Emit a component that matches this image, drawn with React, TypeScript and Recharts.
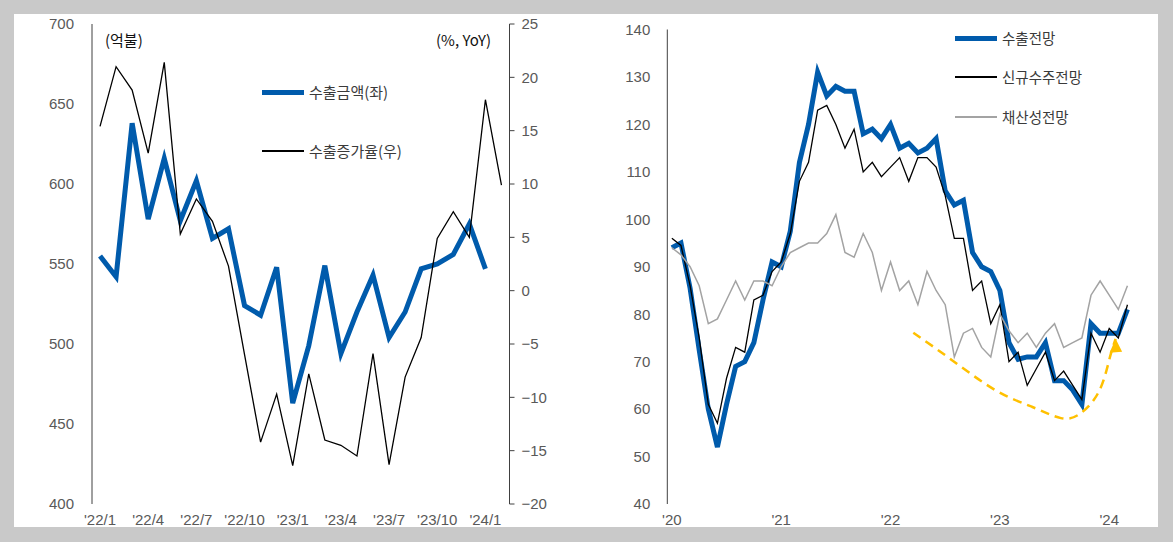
import React from "react";
import { LineChart, Line, XAxis, YAxis } from "recharts";

// ---- left panel: 수출금액 / 수출증가율 ----
const leftMonths = [
  "'22/1", "'22/2", "'22/3", "'22/4", "'22/5", "'22/6", "'22/7", "'22/8", "'22/9",
  "'22/10", "'22/11", "'22/12", "'23/1", "'23/2", "'23/3", "'23/4", "'23/5", "'23/6",
  "'23/7", "'23/8", "'23/9", "'23/10", "'23/11", "'23/12", "'24/1", "'24/2",
];
const exportAmount = [
  555, 542, 638, 578, 616, 577, 602, 566, 572, 524, 518, 548, 463, 499, 549, 494, 520,
  543, 504, 520, 547, 550, 556, 575, 547,
];
const exportGrowth = [
  15.4, 21.0, 18.8, 12.9, 21.4, 5.3, 8.6, 6.5, 2.3, -6.0, -14.2, -9.7, -16.4, -7.8,
  -14.0, -14.5, -15.5, -5.9, -16.3, -8.1, -4.4, 4.9, 7.4, 5.0, 17.9, 9.9,
];
const leftTicks = [400, 450, 500, 550, 600, 650, 700];
const rightTicks = [-20, -15, -10, -5, 0, 5, 10, 15, 20, 25];
const leftLabelEvery = 3;

// ---- right panel: 수출전망 / 신규수주전망 / 채산성전망 (2020.1 ~ 2024.3) ----
const years = ["'20", "'21", "'22", "'23", "'24"];
const exportOutlook = [
  94, 95, 85.5, 72.5, 60, 52, 61, 69, 70, 74, 83, 91,
  90, 97.5, 112, 120, 131, 126, 128, 127, 127, 118, 119, 117,
  120, 115, 116, 114, 115, 117, 106, 103, 104, 93, 90, 89,
  85, 74, 70.5, 71, 71, 74, 66, 66, 64, 61, 78, 76,
  76, 76, 81,
];
const newOrderOutlook = [
  96, 94.5, 86, 75, 61, 57, 66.5, 73, 72, 83, 84, 89,
  91, 97, 108, 112, 123, 124, 120, 115, 119, 110, 112, 109,
  111, 113, 108, 113, 113, 111, 105, 96, 96, 85, 87, 78,
  82, 70, 72, 65, 68.5, 72, 66, 68, 65, 62, 76, 72,
  77, 75, 82,
];
const profitOutlook = [
  94, 92.5, 90, 86, 78, 79, 83, 87, 83, 87, 87, 86,
  90, 93, 94, 95, 95, 97, 101, 93, 92, 97, 93, 85,
  91, 85, 87, 82, 89, 85, 82, 71, 76, 77, 73, 71,
  80, 76.5, 74, 76, 73, 76, 78, 73, 74, 75, 84, 87,
  84, 81, 86,
];
const outlookTicks = [40, 50, 60, 70, 80, 90, 100, 110, 120, 130, 140];
// yellow "rebound" annotation, in (month index, index value)
const trendMonth = [27, 30.9, 36, 40, 43.2, 45.2, 46.8, 47.9, 48.6, 49.2];
const trendValue = [76.1, 70.8, 64, 60.5, 58.1, 58.9, 61.9, 66.2, 71.1, 74.8];

const BLUE = "#005BAC";
const GRAY = "#A3A3A3";
const YELLOW = "#FFC000";
const AXIS = "#404040";
const NUM_FONT = "'Liberation Sans', Arial, sans-serif";
const KR_FONT = "'Noto Sans CJK KR', 'Noto Sans', sans-serif";
const tickStyle = { fill: "#595959", fontSize: 15, fontFamily: NUM_FONT };
const minus = (v: number) => String(v).replace("-", "\u2212");

const leftData = leftMonths.map((m, i) => ({
  x: i + 0.5,
  amount: i < exportAmount.length ? exportAmount[i] : null,
  growth: exportGrowth[i],
}));
const leftBounds = leftMonths.map((_, i) => i).filter((i) => i % leftLabelEvery === 0);

const rightData = exportOutlook.map((v, i) => ({
  x: i + 0.5,
  exp: v,
  order: newOrderOutlook[i],
  profit: profitOutlook[i],
}));
const yearBounds = years.map((_, i) => i * 12);
const trendData = trendMonth.map((m, i) => ({ x: m, trend: trendValue[i] }));

function ArrowHead(props: any) {
  const { cx, cy, index } = props;
  if (index !== trendData.length - 1 || cx == null) return <g key={`a${index}`} />;
  return (
    <path
      key={`a${index}`}
      d={`M${cx},${cy} L${cx + 6.5},${cy + 13} L${cx - 6},${cy + 14} Z`}
      fill={YELLOW}
    />
  );
}

function LegendItem({ x, y, color, thickness, label, size = 15 }: any) {
  return (
    <div
      style={{
        position: "absolute",
        left: x,
        top: y - 11,
        height: 22,
        display: "flex",
        alignItems: "center",
        whiteSpace: "nowrap",
      }}
    >
      <div style={{ width: 42, height: thickness, background: color }} />
      <span
        style={{ marginLeft: 5, fontSize: size, color: "#3a3a3a", fontFamily: KR_FONT, lineHeight: "22px" }}
      >
        {label}
      </span>
    </div>
  );
}

function Note({ x, y, text }: any) {
  return (
    <div
      style={{
        position: "absolute",
        left: x,
        top: y - 10,
        lineHeight: "20px",
        fontSize: 15,
        color: "#111",
        fontFamily: KR_FONT,
        whiteSpace: "nowrap",
      }}
    >
      {text}
    </div>
  );
}

export default function App() {
  return (
    <div
      style={{
        position: "absolute",
        left: 0,
        top: 0,
        width: 1173,
        height: 542,
        background: "#C9C9C9",
        overflow: "hidden",
      }}
    >
      <div style={{ position: "absolute", left: 14, top: 14, width: 1144, height: 513, background: "#fff" }} />

      {/* left chart */}
      <div style={{ position: "absolute", left: 0, top: 0 }}>
        <LineChart width={600} height={542} data={leftData} margin={{ top: 24, right: 40.5, bottom: 8, left: 42 }}>
          <XAxis
            xAxisId="grid"
            type="number"
            dataKey="x"
            domain={[0, leftMonths.length]}
            ticks={leftBounds}
            height={0}
            tick={false}
            tickSize={5}
            stroke={AXIS}
            allowDataOverflow
          />
          <XAxis
            xAxisId="lab"
            type="number"
            dataKey="x"
            domain={[0, leftMonths.length]}
            ticks={leftBounds.map((i) => i + 0.5)}
            tickFormatter={(v: number) => leftMonths[Math.floor(v)]}
            height={30}
            axisLine={false}
            tickLine={false}
            tickSize={0}
            tickMargin={10}
            tick={tickStyle}
            interval={0}
            allowDataOverflow
          />
          <YAxis
            yAxisId="left"
            domain={[400, 700]}
            ticks={leftTicks}
            width={50}
            tickLine={false}
            tickSize={0}
            tickMargin={18}
            stroke={AXIS}
            tick={tickStyle}
            interval={0}
          />
          <YAxis
            yAxisId="right"
            orientation="right"
            domain={[-20, 25]}
            ticks={rightTicks}
            width={50}
            tickSize={5}
            tickMargin={7}
            stroke={AXIS}
            tick={tickStyle}
            tickFormatter={minus}
            interval={0}
          />
          <Line
            xAxisId="grid"
            yAxisId="left"
            dataKey="amount"
            stroke={BLUE}
            strokeWidth={5}
            dot={false}
            activeDot={false}
            type="linear"
            isAnimationActive={false}
          />
          <Line
            xAxisId="grid"
            yAxisId="right"
            dataKey="growth"
            stroke="#000"
            strokeWidth={1.3}
            dot={false}
            activeDot={false}
            type="linear"
            isAnimationActive={false}
          />
        </LineChart>
      </div>

      {/* right chart */}
      <div style={{ position: "absolute", left: 600, top: 0 }}>
        <LineChart width={573} height={542} data={rightData} margin={{ top: 29.5, right: 41, bottom: 8, left: 17.3 }}>
          <XAxis
            xAxisId="grid"
            type="number"
            dataKey="x"
            domain={[0, exportOutlook.length]}
            ticks={yearBounds}
            height={0}
            tick={false}
            tickSize={5}
            stroke={AXIS}
            allowDataOverflow
          />
          <XAxis
            xAxisId="lab"
            type="number"
            dataKey="x"
            domain={[0, exportOutlook.length]}
            ticks={yearBounds.map((i) => i + 0.5)}
            tickFormatter={(v: number) => years[Math.floor(v / 12)]}
            height={30}
            axisLine={false}
            tickLine={false}
            tickSize={0}
            tickMargin={10}
            tick={tickStyle}
            interval={0}
            allowDataOverflow
          />
          <YAxis
            yAxisId="o"
            domain={[40, 140]}
            ticks={outlookTicks}
            width={50}
            tickLine={false}
            tickSize={0}
            tickMargin={17}
            stroke={AXIS}
            tick={tickStyle}
            interval={0}
          />
          <Line
            xAxisId="grid"
            yAxisId="o"
            dataKey="exp"
            stroke={BLUE}
            strokeWidth={5}
            dot={false}
            activeDot={false}
            type="linear"
            isAnimationActive={false}
          />
          <Line
            xAxisId="grid"
            yAxisId="o"
            dataKey="order"
            stroke="#000"
            strokeWidth={1.3}
            dot={false}
            activeDot={false}
            type="linear"
            isAnimationActive={false}
          />
          <Line
            xAxisId="grid"
            yAxisId="o"
            dataKey="profit"
            stroke={GRAY}
            strokeWidth={1.5}
            dot={false}
            activeDot={false}
            type="linear"
            isAnimationActive={false}
          />
          <Line
            xAxisId="grid"
            yAxisId="o"
            data={trendData}
            dataKey="trend"
            stroke={YELLOW}
            strokeWidth={2.5}
            strokeDasharray="9 6"
            dot={ArrowHead}
            activeDot={false}
            type="natural"
            isAnimationActive={false}
          />
        </LineChart>
      </div>

      {/* left annotations */}
      <Note x={105} y={40} text="(억불)" />
      <Note x={436} y={40} text="(%, YoY)" />
      <LegendItem x={262} y={92} color={BLUE} thickness={5} label="수출금액(좌)" />
      <LegendItem x={262} y={151} color="#000" thickness={1.5} label="수출증가율(우)" />

      {/* right legend */}
      <LegendItem x={955} y={38} color={BLUE} thickness={5} label="수출전망" size={14.5} />
      <LegendItem x={955} y={77} color="#000" thickness={1.5} label="신규수주전망" size={14.5} />
      <LegendItem x={955} y={117} color={GRAY} thickness={1.5} label="채산성전망" size={14.5} />
    </div>
  );
}
